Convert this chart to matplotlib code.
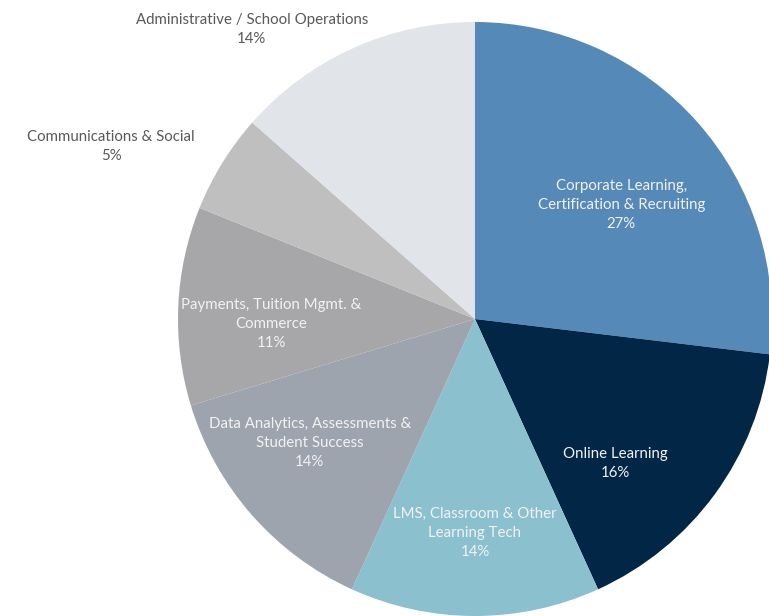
import numpy as np
import matplotlib
matplotlib.use("Agg")
import matplotlib.pyplot as plt

plt.rcParams['font.family'] = ['Lato', 'DejaVu Sans']

# segment shares (%), clockwise from 12 o'clock
segments = ['Corporate Learning,\nCertification & Recruiting',
            'Online Learning',
            'LMS, Classroom & Other\nLearning Tech',
            'Data Analytics, Assessments &\nStudent Success',
            'Payments, Tuition Mgmt. &\nCommerce',
            'Communications & Social',
            'Administrative / School Operations']
shares = [26.9, 16.3, 13.6, 13.5, 10.8, 5.4, 13.5]
colors = ['#5589b7', '#022746', '#8bc1ce', '#9da4ae', '#a7a7a9', '#bfbfbf', '#e1e4e8']

# label placement: offset from wedge mid-angle (deg), radius as fraction of pie radius
label_dang = [-3, -9, 0, -5, 3, 6, 13]
label_rad = [0.63, 0.67, 0.71, 0.69, 0.685, 1.36, 1.24]

fig = plt.figure(figsize=(7.69, 6.16), dpi=100)
ax = fig.add_axes([0, 0, 1, 1])

cx, cy, R = 475, 297, 297
wedges, _ = ax.pie(shares, colors=colors, startangle=90, counterclock=False,
                   center=(cx, cy), radius=R, frame=True,
                   wedgeprops=dict(linewidth=0))
ax.set_xlim(0, 769)
ax.set_ylim(0, 616)
ax.set_aspect('equal')
ax.axis('off')

for w, name, v, da, rr in zip(wedges, segments, shares, label_dang, label_rad):
    mid = np.deg2rad((w.theta1 + w.theta2) / 2 + da)
    x = cx + rr * R * np.cos(mid)
    y = cy + rr * R * np.sin(mid) - 3
    col = '#595959' if rr > 1 else '#f2f2f2'
    ax.text(x, y, f"{name}\n{v:.0f}%", ha='center', va='center',
            fontsize=10.8, color=col, linespacing=1.45)

plt.savefig('out.png', dpi=100)
